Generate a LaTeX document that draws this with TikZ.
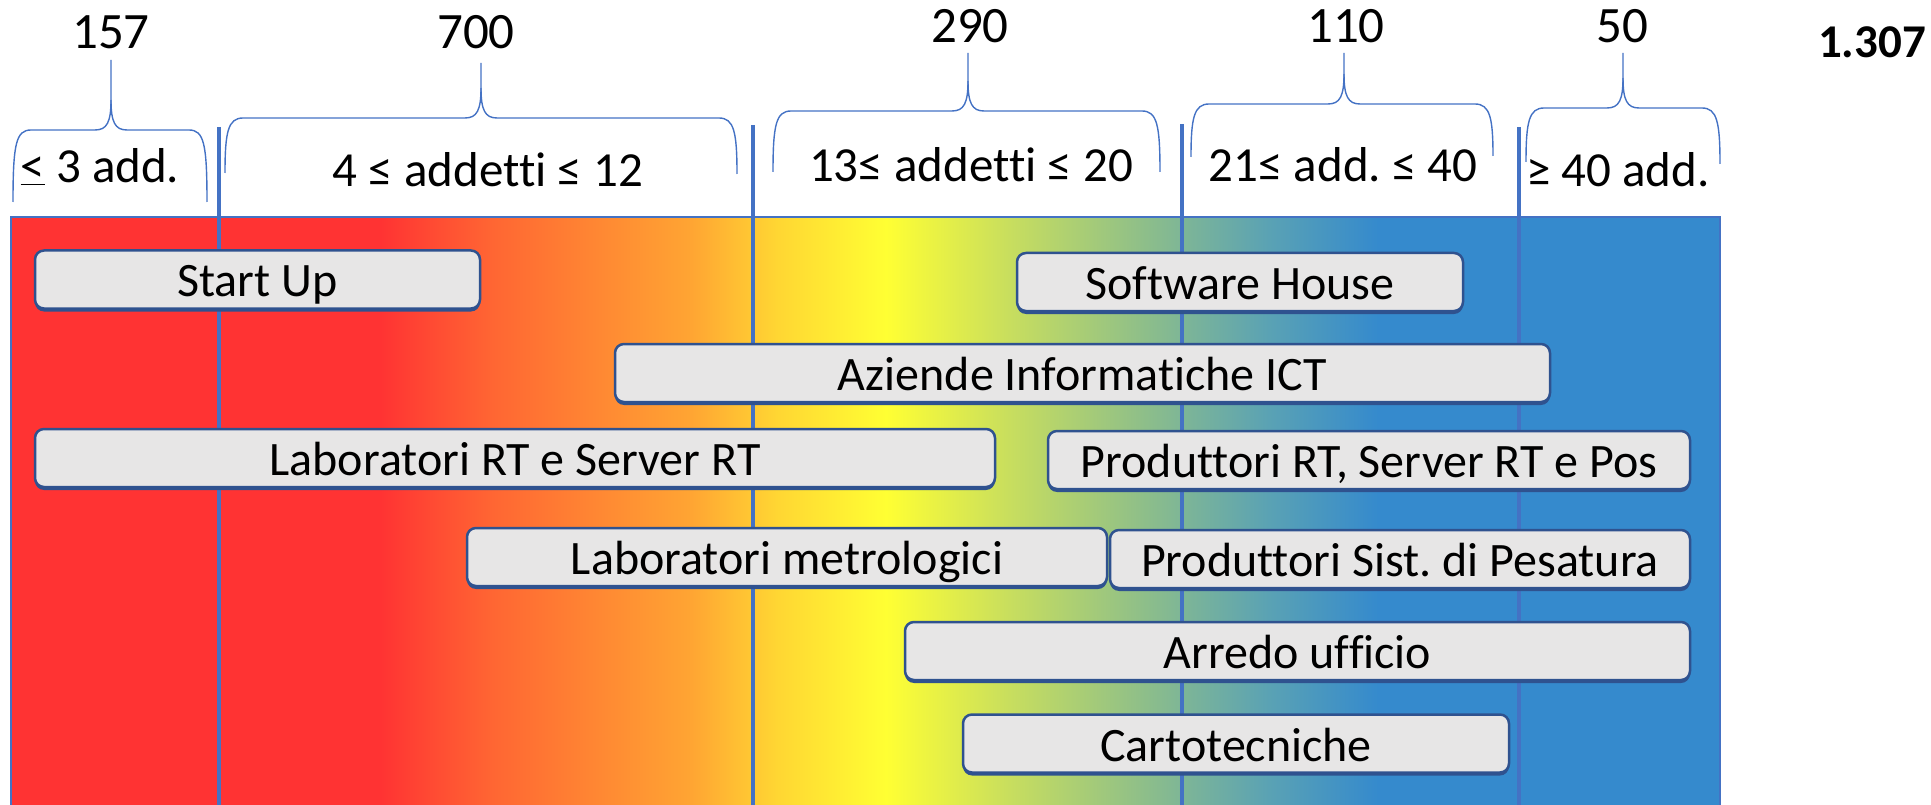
\documentclass[tikz,border=0pt]{standalone}
\usepackage{fontspec}
\setmainfont{Carlito}[Ligatures={NoCommon}]
\usetikzlibrary{shadows}
\frenchspacing
\definecolor{lineblue}{HTML}{4472C4}
\definecolor{boxborder}{HTML}{2F528F}
\definecolor{boxfill}{HTML}{E7E6E6}
\definecolor{cRed}{HTML}{FF3333}
\definecolor{cOrA}{HTML}{FF6633}
\definecolor{cOrB}{HTML}{FFA533}
\definecolor{cYelA}{HTML}{FFD633}
\definecolor{cYel}{HTML}{FFFF33}
\definecolor{cGrA}{HTML}{C8DE5E}
\definecolor{cGrB}{HTML}{8DBE8A}
\definecolor{cTeal}{HTML}{5AA2B4}
\definecolor{cBlue}{HTML}{358ACD}
\pgfdeclarehorizontalshading{spectrum}{100bp}{color(0bp)=(cRed); color(25bp)=(cRed); color(35.8bp)=(cRed); color(39.1bp)=(cOrA); color(44.9bp)=(cOrB); color(47.4bp)=(cYelA); color(50.6bp)=(cYel); color(54.2bp)=(cGrA); color(58.2bp)=(cGrB); color(61.8bp)=(cTeal); color(65bp)=(cBlue); color(75bp)=(cBlue); color(100bp)=(cBlue)}
\tikzset{
  box/.style={draw=boxborder, line width=2.5pt, fill=boxfill, rounded corners=9pt, inner sep=0pt,
    minimum height=58pt, font=\fontsize{48}{57}\selectfont\frenchspacing, text height=35pt, text depth=0pt,
    drop shadow={shadow xshift=0pt, shadow yshift=-3pt, fill=boxborder, opacity=1}},
  vline/.style={draw=lineblue, line width=3.5pt},
  bracestyle/.style={draw=lineblue, line width=1.4pt},
  lbl/.style={anchor=base, inner sep=0pt, font=\fontsize{49}{58}\selectfont\frenchspacing},
  numlbl/.style={anchor=base, inner sep=0pt, font=\fontsize{51}{60}\selectfont}
}
\newcommand\mybrace[7]{%
  \draw[bracestyle] (#1,#6) .. controls (#1,#3+14) and (#1+3,#3) .. (#1+18,#3) -- (#4-16,#3) .. controls (#4-4,#3) and (#4,#3-8) .. (#4,#3-30) -- (#4,#5);
  \draw[bracestyle] (#2,#7) .. controls (#2,#3+14) and (#2-3,#3) .. (#2-18,#3) -- (#4+16,#3) .. controls (#4+4,#3) and (#4,#3-8) .. (#4,#3-30);}
\begin{document}
\begin{tikzpicture}[x=1pt,y=-1pt]
\useasboundingbox (0,0) rectangle (1931,805);
% coloured band
\shade[shading=spectrum] (11,217) rectangle (1720,805);
\draw[lineblue, line width=2pt] (11,217) rectangle (1720,806);
% separators
\draw[vline] (219,127) -- (219,805);
\draw[vline] (753,125) -- (753,805);
\draw[vline] (1182,124) -- (1182,805);
\draw[vline] (1519,127) -- (1519,805);
% braces: L R T M P EL ER
\mybrace{13}{207}{130}{111}{60}{202}{202}
\mybrace{225}{737}{118}{481}{63}{173}{174}
\mybrace{773}{1160}{111}{968}{53}{172}{172}
\mybrace{1191}{1493}{104}{1344}{53}{157}{156}
\mybrace{1526}{1720}{108}{1623}{53}{162}{164}
% numbers
\node[numlbl] (n157) at (111,49) {157};
\node[numlbl] (n700) at (476,49) {700};
\node[numlbl] (n290) at (970,43) {290};
\node[numlbl] (n110) at (1346,43) {110};
\node[numlbl] (n50) at (1622,43) {50};
\node[anchor=base, inner sep=0pt, font=\fontsize{47}{56}\selectfont\bfseries] (tot) at (1872,58) {1.307};
% range labels
\node[lbl] (r1) at (100,183) {\underline{<} 3 add.};
\node[lbl] (r2) at (488,187) {4 ≤ addetti ≤ 12};
\node[lbl] (r3) at (971,182) {13≤ addetti ≤ 20};
\node[lbl] (r4) at (1343,182) {21≤ add. ≤ 40};
\node[lbl] (r5) at (1618,187) {≥ 40 add.};
% boxes
\node[box, minimum width=445pt] (startup) at (257.5,279.5) {Start Up};
\node[box, minimum width=446pt] (software) at (1240,282) {Software House};
\node[box, minimum width=935pt] (aziende) at (1082.5,373) {Aziende Informatiche ICT};
\node[box, minimum width=960pt] (labrt) at (515,458) {Laboratori RT e Server RT};
\node[box, minimum width=642pt] (prodrt) at (1369,460) {Produttori RT, Server RT e Pos};
\node[box, minimum width=640pt] (labmet) at (787,557) {Laboratori metrologici};
\node[box, minimum width=580pt] (prodsist) at (1400,559) {Produttori Sist. di Pesatura};
\node[box, minimum width=785pt] (arredo) at (1297.5,651) {Arredo ufficio};
\node[box, minimum width=546pt] (carto) at (1236,743.5) {Cartotecniche};
\end{tikzpicture}
\end{document}
